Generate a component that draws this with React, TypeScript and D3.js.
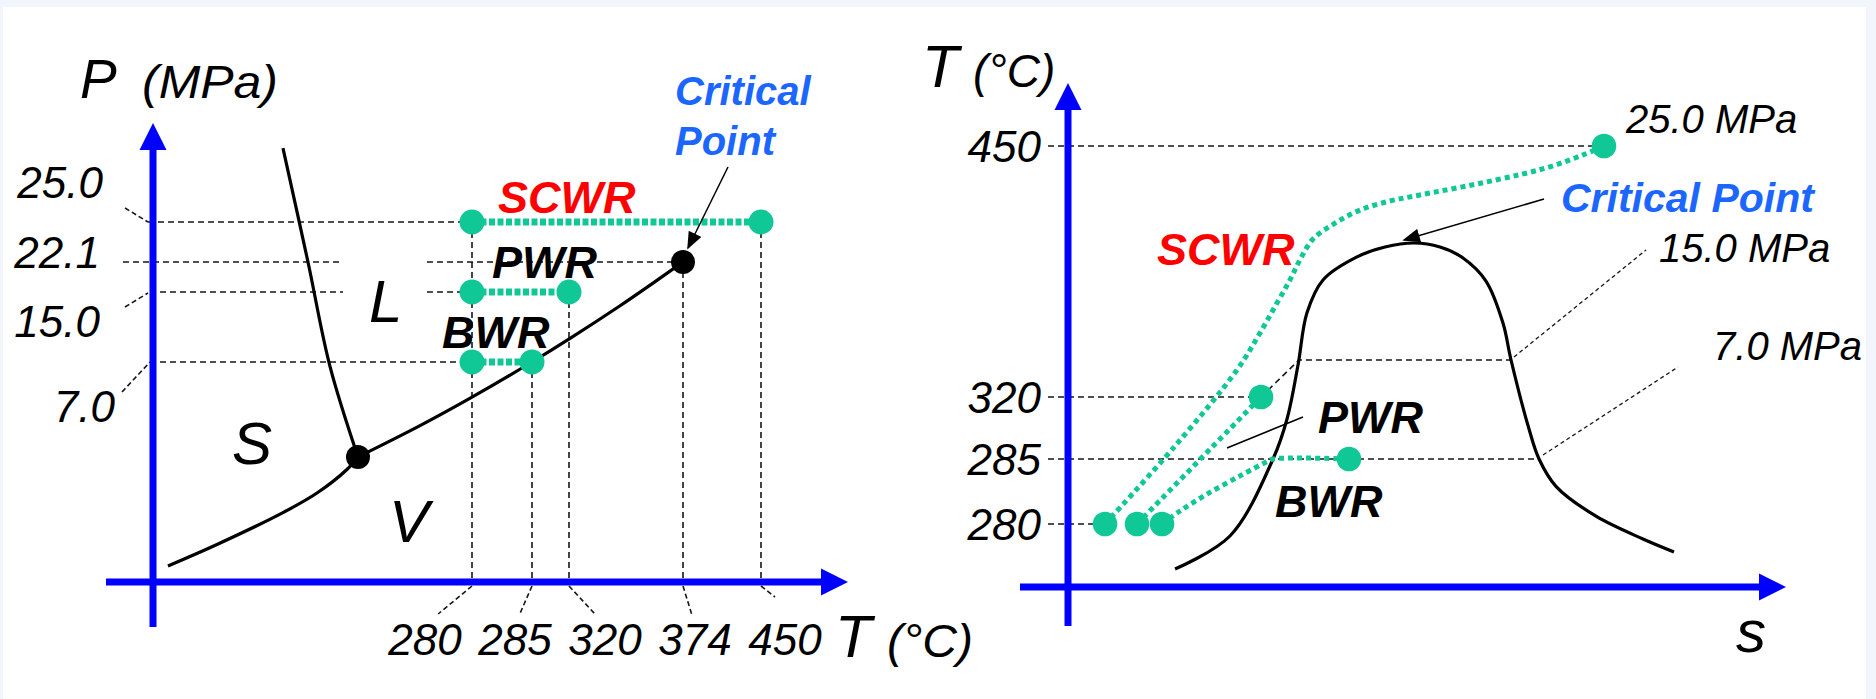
import React from "react";
import * as d3 from "d3";

// ---------- left: P-T phase diagram of water (schematic) ----------
const pTicks = [25.0, 22.1, 15.0, 7.0];
const pTickLabels = ["25.0", "22.1", "15.0", "7.0"];
const tTicks = [280, 285, 320, 374, 450];

// [T (°C), P (MPa)]
const sublimation = [[-92.7, 0.000077], [-68.8, 0.00018], [-36.6, 0.000333], [-20.0, 0.000427], [-5.4, 0.00054], [0, 0.0006]];
const melting = [[0, 0.0006], [-13.7, 6.7], [-24.4, 22.1], [-36.6, 30.35]];
const vaporization = [[0, 0.0006], [152.3, 2.31], [280, 4.41], [285, 7.0], [320.5, 9.7], [344.2, 13.43], [359.8, 17.11], [374, 22.1]];
const triplePoint = [0, 0.0006];
const criticalPT = [374, 22.1];

const reactorNames = ["SCWR", "PWR", "BWR"];
const reactorColors = ["#ff0000", "#000000", "#000000"];
const reactorP = [25.0, 15.0, 7.0];
const reactorTin = [280, 280, 280];
const reactorTout = [450, 320, 285];

// ---------- right: T-s diagram (schematic) ----------
const tsTicks = [450, 320, 285, 280];
// [s (arb.), T (°C)]
const dome = [[1.529, 80], [2.314, 226.7], [2.929, 285], [3.129, 307.6], [3.286, 339], [3.414, 354.9], [3.643, 363.9], [4.129, 370.2], [4.529, 372.9], [4.943, 374], [5.314, 372.9], [5.643, 369.9], [5.971, 363.6], [6.214, 352.1], [6.329, 342], [6.586, 301.9], [6.729, 285], [6.971, 282.9], [7.543, 280.6], [8.214, 213.3], [8.657, 155.6]];
const scwrTs = [[0.529, 280], [1.529, 292.3], [2.414, 336.1], [2.743, 349.4], [2.986, 357.6], [3.171, 363.9], [3.314, 369.4], [3.5, 377.1], [3.814, 389.5], [4.171, 399.8], [4.6, 406.9], [5.029, 411.6], [6.114, 423.4], [6.829, 432.8], [7.357, 443.0], [7.657, 450]];
const pwrTs = [[0.986, 280], [2.757, 320]];
const bwrTs = [[1.343, 280], [1.6, 281.0], [1.986, 282.3], [2.457, 283.7], [2.843, 284.8], [2.929, 285], [4.014, 285]];
const isobar15 = [[2.757, 320], [3.3, 342], [6.329, 342]];
const sat7 = [6.729, 285];
const criticalTs = [4.943, 374];
const isobarLabels = ["25.0 MPa", "15.0 MPa", "7.0 MPa"];

const green = "#10c896";
const axisBlue = "#0000ff";
const cpBlue = "#1a66ff";
const font = "'Liberation Sans', Arial, Helvetica, sans-serif";
const dash = { stroke: "#161616", strokeWidth: 1.6, strokeDasharray: "6 4", fill: "none" };

function Axes({ ox, oy, x0, x1, y0, y1 }) {
  const head = 27, hw = 13.5;
  return (
    <g fill={axisBlue}>
      <line x1={x0} y1={oy} x2={x1 - head + 2} y2={oy} stroke={axisBlue} strokeWidth={7} />
      <line x1={ox} y1={y0} x2={ox} y2={y1 + head - 2} stroke={axisBlue} strokeWidth={7} />
      <path d={`M${x1},${oy} L${x1 - head},${oy - hw} L${x1 - head},${oy + hw} Z`} />
      <path d={`M${ox},${y1} L${ox - hw},${y1 + head} L${ox + hw},${y1 + head} Z`} />
    </g>
  );
}

export default function App() {
  const xT = d3.scaleLinear().domain([-100, 0, 280, 285, 320, 374, 450]).range([153, 358, 472, 532, 569, 683, 761]);
  const yP = d3.scaleLinear().domain([0, 0.0006, 7, 15, 22.1, 25]).range([582, 457, 362, 292, 262, 222]);
  const xS = d3.scaleLinear().domain([0, 10]).range([1068, 1768]);
  const yT = d3.scaleLinear().domain([0, 280, 285, 320, 342, 374, 450]).range([587, 524, 459, 397, 360, 243, 146]);

  const curve = d3.curveCatmullRom.alpha(0.5);
  const linePT = d3.line<number[]>().x(d => xT(d[0])).y(d => yP(d[1])).curve(curve);
  const lineTs = d3.line<number[]>().x(d => xS(d[0])).y(d => yT(d[1])).curve(curve);
  const lineTsStraight = d3.line<number[]>().x(d => xS(d[0])).y(d => yT(d[1]));

  const oxL = xT(-100), oyL = yP(0);
  const oxR = xS(0), oyR = yT(0);

  // points on the P-T plane that the guide lines run to
  const ptMarks = [criticalPT];
  reactorP.forEach((p, i) => { ptMarks.push([reactorTin[i], p]); ptMarks.push([reactorTout[i], p]); });

  const lCenter = [385, 300];
  const yLabelDy = [-24, 6, 45, 60];
  const yLabelEnd = [103, 100, 100, 115];
  const hStart = [oxL - 5, oxL - 30, oxL - 3, oxL - 3];
  const leaders = [[[-28, -14], [-5, 0]], null, [[-28, 15], [-5, 1]], [[-31, 30], [-3, 0]]];
  const xLabel = d3.scalePoint<number>().domain(tTicks).range([425, 785]);

  const reactorLabelOff = [[26, -9], [20, -14], [-30, -14]];

  const cpL = [xT(criticalPT[0]), yP(criticalPT[1])];
  const cpR = [xS(criticalTs[0]), yT(criticalTs[1])];
  const scwrEnd = scwrTs[scwrTs.length - 1];
  const i15 = isobar15[isobar15.length - 1];

  const txt = (size, extra = {}) => ({ fontFamily: font, fontSize: size, fontStyle: "italic", ...extra });

  return (
    <svg width={1876} height={699} style={{ position: "absolute", left: 0, top: 0 }}>
      <defs>
        <marker id="ah" viewBox="0 0 10 8" refX={9} refY={4} markerWidth={18} markerHeight={14} markerUnits="userSpaceOnUse" orient="auto">
          <path d="M0,0 L10,4 L0,8 Z" fill="#000" />
        </marker>
      </defs>
      <rect x={0} y={0} width={1876} height={699} fill="#f2f6fc" />
      <rect x={3} y={7} width={1863} height={692} fill="#ffffff" />

      {/* ================= LEFT ================= */}
      <g>
        {pTicks.map((p, i) => {
          const y = yP(p);
          const xEnd = d3.min(ptMarks.filter(m => m[1] === p), m => xT(m[0]));
          const gap = Math.abs(y - lCenter[1]) < 45;
          const segs = gap ? [[hStart[i], lCenter[0] - 42], [lCenter[0] + 42, xEnd]] : [[hStart[i], xEnd]];
          return (
            <g key={p}>
              {segs.map((s, j) => <line key={j} x1={s[0]} y1={y} x2={s[1]} y2={y} {...dash} />)}
              {leaders[i] && (
                <line x1={oxL + leaders[i][0][0]} y1={y + leaders[i][0][1]} x2={oxL + leaders[i][1][0]} y2={y + leaders[i][1][1]} {...dash} strokeDasharray="5 3" />
              )}
              <text x={yLabelEnd[i]} y={y + yLabelDy[i]} textAnchor="end" {...txt(44)}>{pTickLabels[i]}</text>
            </g>
          );
        })}
        {tTicks.map(t => {
          const x = xT(t);
          const yTop = d3.min(ptMarks.filter(m => m[0] === t), m => yP(m[1]));
          const lx = xLabel(t);
          const ex = x + (lx - x) * 0.72, ey = oyL + 32;
          return (
            <g key={t}>
              <line x1={x} y1={yTop} x2={x} y2={oyL} {...dash} />
              <line x1={x} y1={oyL + 4} x2={t === 450 ? x + 14 : ex} y2={t === 450 ? oyL + 15 : ey} {...dash} strokeDasharray="5 3" />
              <text x={lx} y={655} textAnchor="middle" {...txt(44)}>{t}</text>
            </g>
          );
        })}

        <Axes ox={oxL} oy={oyL} x0={106} x1={848} y0={627} y1={123} />

        <path d={linePT(sublimation)} fill="none" stroke="#000" strokeWidth={3.2} />
        <path d={linePT(melting)} fill="none" stroke="#000" strokeWidth={3.2} />
        <path d={linePT(vaporization)} fill="none" stroke="#000" strokeWidth={3.2} />

        {reactorNames.map((n, i) => {
          const y = yP(reactorP[i]);
          const xa = xT(reactorTin[i]), xb = xT(reactorTout[i]);
          return (
            <g key={n}>
              <line x1={xa} y1={y} x2={xb} y2={y} stroke={green} strokeWidth={7} strokeDasharray="6 2.5" />
              <circle cx={xa} cy={y} r={12.5} fill={green} />
              <circle cx={xb} cy={y} r={12.5} fill={green} />
              <text x={xa + reactorLabelOff[i][0]} y={y + reactorLabelOff[i][1]} fill={reactorColors[i]} {...txt(45, { fontWeight: "bold" })}>{n}</text>
            </g>
          );
        })}

        <circle cx={xT(triplePoint[0])} cy={yP(triplePoint[1])} r={12} fill="#000" />
        <circle cx={cpL[0]} cy={cpL[1]} r={12} fill="#000" />
        <line x1={cpL[0] + 45} y1={cpL[1] - 95} x2={cpL[0] + 5} y2={cpL[1] - 14} stroke="#000" strokeWidth={1.5} markerEnd="url(#ah)" />
        <text x={cpL[0] - 8} y={cpL[1] - 157} fill={cpBlue} {...txt(40, { fontWeight: "bold" })}>Critical</text>
        <text x={cpL[0] - 8} y={cpL[1] - 107} fill={cpBlue} {...txt(40, { fontWeight: "bold" })}>Point</text>

        <text x={80} y={98} {...txt(55)}>P</text>
        <text x={142} y={98} textLength={136} lengthAdjust="spacingAndGlyphs" {...txt(46)}>(MPa)</text>
        <text x={835} y={657} {...txt(60)}>T</text>
        <text x={887} y={657} textLength={86} lengthAdjust="spacingAndGlyphs" {...txt(46)}>(°C)</text>

        <text x={lCenter[0] - 16} y={322} {...txt(60)}>L</text>
        <text x={232} y={464} {...txt(60)}>S</text>
        <text x={389} y={542} {...txt(60)}>V</text>
      </g>

      {/* ================= RIGHT ================= */}
      <g>
        {tsTicks.map(t => {
          const y = yT(t);
          let xEnd;
          if (t === 450) xEnd = xS(scwrEnd[0]);
          else if (t === 320) xEnd = xS(pwrTs[1][0]);
          else if (t === 285) xEnd = xS(sat7[0]);
          else xEnd = xS(scwrTs[0][0]);
          return (
            <g key={t}>
              <line x1={oxR - 20} y1={y} x2={xEnd} y2={y} {...dash} />
              <text x={1041} y={y + 16} textAnchor="end" {...txt(44)}>{t}</text>
            </g>
          );
        })}
        <path d={lineTsStraight(isobar15)} {...dash} />
        <line x1={xS(i15[0]) + 3} y1={yT(i15[1]) - 3} x2={xS(i15[0]) + 135} y2={yT(i15[1]) - 110} {...dash} strokeWidth={1.3} strokeDasharray="4 3" />
        <line x1={xS(sat7[0]) + 4} y1={yT(sat7[1]) - 4} x2={xS(sat7[0]) + 139} y2={yT(sat7[1]) - 92} {...dash} strokeWidth={1.3} strokeDasharray="4 3" />

        <Axes ox={oxR} oy={oyR} x0={1020} x1={1786} y0={626} y1={83} />

        <path d={lineTs(dome)} fill="none" stroke="#000" strokeWidth={3.2} />

        {[scwrTs, pwrTs, bwrTs].map((path, i) => (
          <path key={i} d={lineTs(path)} fill="none" stroke={green} strokeWidth={5} strokeDasharray="5 4" />
        ))}
        {[scwrTs, pwrTs, bwrTs].map((path, i) => (
          <g key={"d" + i}>
            <circle cx={xS(path[0][0])} cy={yT(path[0][1])} r={12.3} fill={green} />
            <circle cx={xS(path[path.length - 1][0])} cy={yT(path[path.length - 1][1])} r={12.3} fill={green} />
          </g>
        ))}

        <line x1={cpR[0] + 130} y1={cpR[1] - 44} x2={cpR[0] - 10} y2={cpR[1] - 3} stroke="#000" strokeWidth={1.5} markerEnd="url(#ah)" />
        <text x={cpR[0] + 147} y={cpR[1] - 31} fill={cpBlue} {...txt(41, { fontWeight: "bold" })}>Critical Point</text>

        <text x={xS(scwrEnd[0]) + 22} y={yT(scwrEnd[1]) - 13} {...txt(40)}>{isobarLabels[0]}</text>
        <text x={xS(i15[0]) + 148} y={yT(i15[1]) - 98} {...txt(40)}>{isobarLabels[1]}</text>
        <text x={xS(sat7[0]) + 174} y={yT(sat7[1]) - 99} {...txt(40)}>{isobarLabels[2]}</text>

        <text x={1157} y={265} fill="#ff0000" {...txt(45, { fontWeight: "bold" })}>SCWR</text>
        <text x={1318} y={433} {...txt(45, { fontWeight: "bold" })}>PWR</text>
        <line x1={1227} y1={448} x2={1303} y2={417} stroke="#000" strokeWidth={1.6} />
        <text x={1275} y={517} {...txt(45, { fontWeight: "bold" })}>BWR</text>

        <text x={922} y={87} {...txt(60)}>T</text>
        <text x={973} y={87} {...txt(46)}>(°C)</text>
        <text x={1736} y={652} {...txt(60)}>s</text>
      </g>
    </svg>
  );
}
